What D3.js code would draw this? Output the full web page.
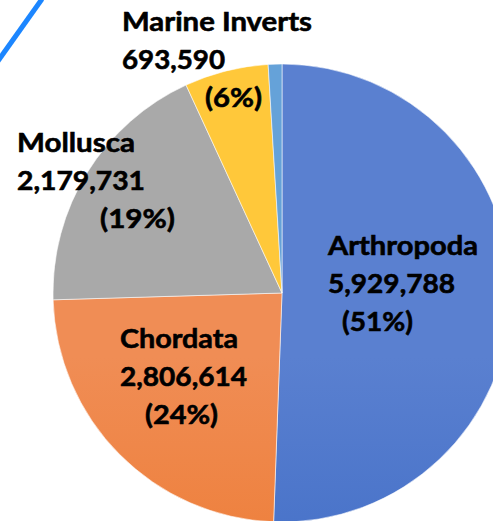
<!DOCTYPE html>
<html>
<head>
<meta charset="utf-8">
<script src="https://cdn.jsdelivr.net/npm/d3@7"></script>
<style>
  html, body { margin: 0; padding: 0; background: #fff; overflow: hidden; }
  svg { display: block; }
</style>
</head>
<body>
<script>
// ---- data ----
const categories = ["Arthropoda", "Chordata", "Mollusca", "Marine Inverts", "Other"];
const values = [5929788, 2806614, 2179731, 693590, 113000];
const valueLabels = ["5,929,788", "2,806,614", "2,179,731", "693,590", ""];
const percentLabels = ["(51%)", "(24%)", "(19%)", "(6%)", ""];

// ---- styling ----
const W = 493, H = 521;
const cx = 282, cy = 293, R = 229;
const colorTop = ["#5a80d0", "#f08d55", "#a9a9a9", "#ffc83a", "#65a2d9"];
const colorBot = ["#2f60bf", "#eb6e1b", "#979797", "#fcbd20", "#5494d0"];

// label layout: x of each line, widths of each line, baseline of first line
const labelPos = {
  "Arthropoda":     {x: [328, 328, 342], w: [150, 127, 71], y: 255},
  "Chordata":       {x: [120, 120, 145], w: [118, 127, 73], y: 348},
  "Mollusca":       {x: [17, 17, 100],   w: [118, 128, 75], y: 152},
  "Marine Inverts": {x: [122, 122, 205], w: [190, 103, 57], y: 31}
};
const lineGap = 38;

const svg = d3.select("body").append("svg")
  .attr("width", W).attr("height", H);

const defs = svg.append("defs");
categories.forEach((c, i) => {
  const g = defs.append("linearGradient")
    .attr("id", "g" + i)
    .attr("gradientUnits", "userSpaceOnUse")
    .attr("x1", 0).attr("y1", cy - R).attr("x2", 0).attr("y2", cy + R);
  g.append("stop").attr("offset", "0%").attr("stop-color", colorTop[i]);
  g.append("stop").attr("offset", "100%").attr("stop-color", colorBot[i]);
});

const pie = d3.pie().value(d => d).sort(null);
const arc = d3.arc().innerRadius(0).outerRadius(R);
const arcs = pie(values);

const gPie = svg.append("g").attr("transform", `translate(${cx},${cy})`);
gPie.selectAll("path")
  .data(arcs)
  .join("path")
  .attr("d", arc)
  .attr("fill", (d, i) => `url(#g${i})`)
  .attr("stroke", "rgba(255,255,255,0.55)")
  .attr("stroke-width", 1);

// decorative blue stroke in top-left corner
svg.append("line")
  .attr("x1", -2).attr("y1", 61).attr("x2", 42).attr("y2", -1)
  .attr("stroke", "#1c86ff").attr("stroke-width", 5);

// labels
const gLab = svg.append("g")
  .attr("font-family", "Lato, 'Open Sans', sans-serif")
  .attr("font-weight", "bold")
  .attr("font-size", 27.5)
  .attr("fill", "#000")
  .attr("stroke", "#000")
  .attr("stroke-width", 0.6);

categories.forEach((c, i) => {
  const p = labelPos[c];
  if (!p) return;
  const lines = [c, valueLabels[i], percentLabels[i]];
  lines.forEach((t, k) => {
    gLab.append("text")
      .attr("x", p.x[k])
      .attr("y", p.y + k * lineGap)
      .attr("textLength", p.w[k])
      .attr("lengthAdjust", "spacingAndGlyphs")
      .text(t);
  });
});
</script>
</body>
</html>
